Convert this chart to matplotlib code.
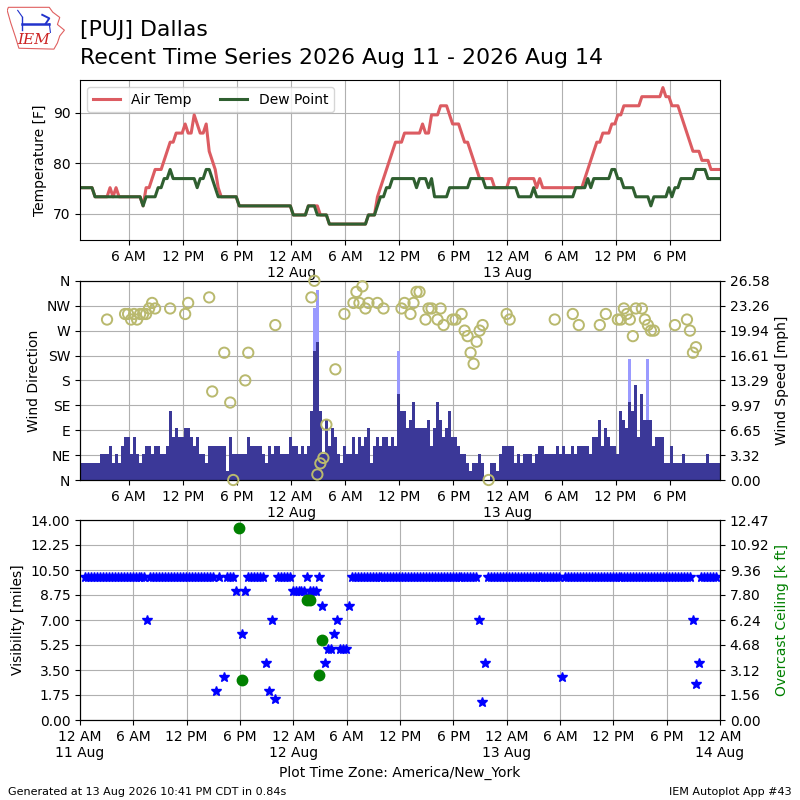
import datetime as dt
import numpy as np
import matplotlib
matplotlib.use("Agg")
import matplotlib.pyplot as plt
import matplotlib.dates as mdates
from matplotlib.ticker import FuncFormatter
from matplotlib.patches import Polygon

# ---------------- data (20-minute observations, run-length encoded) ----------------
START = dt.datetime(2026, 8, 11, 0, 35)
STEP_MIN = 20

TEMP_RUNS = [(75.2, 5), (73.4, 5), (75.2, 1), (73.4, 1), (75.2, 1), (73.4, 8), (71.6, 1),
             (75.2, 2), (77, 1), (78.8, 3), (80.6, 1), (82.4, 1), (84.2, 2), (86, 3),
             (87.8, 1), (86, 2), (89.6, 1), (87.8, 1), (86, 2), (87.8, 1), (82.4, 1),
             (80.6, 1), (78.8, 1), (75.2, 1), (73.4, 6), (71.6, 18), (69.8, 5), (71.6, 4),
             (69.8, 3), (68, 13), (69.8, 3), (73.4, 1), (75.2, 1), (77, 1), (78.8, 1),
             (80.6, 1), (82.4, 1), (84.2, 3), (86, 6), (87.8, 1), (86, 2), (89.6, 3),
             (91.4, 3), (89.6, 1), (87.8, 3), (86, 1), (84.2, 2), (82.4, 1), (80.6, 1),
             (78.8, 1), (77, 5), (75.2, 5), (77, 9), (75.2, 1), (77, 1), (75.2, 14),
             (77, 1), (78.8, 1), (80.6, 1), (82.4, 1), (84.2, 2), (86, 3), (87.8, 2),
             (89.6, 2), (91.4, 6), (93.2, 7), (95, 1), (93.2, 2), (91.4, 3), (89.6, 1),
             (87.8, 1), (86, 1), (84.2, 1), (82.4, 3), (80.6, 3), (78.8, 4)]

DEW_RUNS = [(75.2, 5), (73.4, 16), (71.6, 1), (73.4, 4), (75.2, 2), (77, 2), (78.8, 1),
            (77, 8), (75.2, 1), (77, 2), (78.8, 2), (77, 1), (75.2, 1), (73.4, 7),
            (71.6, 18), (69.8, 5), (71.6, 3), (69.8, 4), (68, 13), (69.8, 3), (71.6, 1),
            (73.4, 2), (75.2, 2), (77, 8), (75.2, 1), (77, 3), (75.2, 1), (77, 1),
            (73.4, 5), (75.2, 7), (77, 5), (75.2, 11), (73.4, 5), (75.2, 1), (73.4, 13),
            (75.2, 4), (77, 1), (75.2, 1), (77, 6), (78.8, 2), (77, 2), (75.2, 4),
            (73.4, 5), (71.6, 1), (73.4, 5), (75.2, 1), (73.4, 1), (75.2, 2), (77, 5),
            (78.8, 4), (77, 5)]

WIND_KT_RUNS = [(2, 7), (3, 3), (4, 1), (2, 1), (3, 1), (2, 1), (4, 1), (5, 2), (3, 1),
                (5, 1), (3, 1), (2, 1), (3, 1), (4, 2), (3, 1), (4, 2), (3, 2), (4, 1),
                (8, 1), (5, 1), (6, 1), (5, 2), (6, 2), (5, 1), (4, 1), (5, 1), (3, 2),
                (2, 1), (4, 6), (1, 1), (5, 1), (3, 5), (5, 1), (4, 4), (3, 1), (2, 1),
                (4, 1), (3, 1), (4, 2), (3, 3), (5, 1), (4, 2), (3, 1), (4, 1), (3, 1),
                (4, 1), (8, 1), (15, 1), (16, 1), (8, 1), (3, 1), (7, 1), (4, 1), (6, 1),
                (5, 1), (3, 1), (2, 1), (4, 1), (3, 2), (5, 1), (3, 1), (5, 1), (4, 1),
                (5, 1), (6, 1), (2, 1), (4, 1), (5, 1), (4, 1), (5, 2), (4, 1), (5, 1),
                (4, 1), (10, 1), (8, 2), (6, 1), (7, 1), (9, 1), (6, 4), (7, 1), (4, 1),
                (6, 1), (9, 1), (7, 1), (5, 1), (6, 1), (8, 1), (5, 2), (4, 1), (3, 2),
                (2, 1), (1, 1), (2, 2), (3, 1), (2, 1), (0, 2), (2, 2), (1, 1), (3, 1),
                (4, 4), (2, 1), (3, 1), (2, 1), (3, 3), (2, 1), (3, 1), (4, 2), (3, 4),
                (4, 1), (3, 1), (4, 1), (3, 2), (4, 1), (3, 1), (4, 4), (3, 1), (5, 2),
                (7, 1), (4, 1), (6, 1), (5, 1), (4, 2), (3, 1), (8, 1), (7, 1), (6, 1),
                (9, 1), (8, 1), (11, 1), (5, 1), (10, 1), (7, 3), (4, 1), (5, 3), (2, 2),
                (4, 1), (2, 3), (3, 1), (2, 7), (3, 1), (2, 4)]

GUST_IDX = [78, 79, 106, 183, 189]
GUST_KT = [20, 22, 15, 14, 14]

DIR_IDX = [9, 15, 16, 17, 18, 19, 20, 21, 22, 23, 24, 25, 30, 35, 36, 43, 44, 48, 50, 51,
           55, 56, 65, 77, 78, 79, 80, 81, 82, 85, 88, 91, 92, 93, 94, 95, 96, 99, 101,
           107, 108, 110, 111, 112, 113, 115, 116, 117, 119, 120, 121, 124, 125, 127, 128,
           129, 130, 131, 132, 133, 134, 136, 142, 143, 158, 164, 166, 173, 175, 179, 180,
           181, 182, 183, 184, 185, 187, 188, 189, 190, 191, 198, 202, 203, 204, 205]
DIR_DEG = [290, 300, 300, 290, 300, 290, 300, 300, 300, 310, 320, 310, 310, 300, 320, 330,
           160, 230, 140, 0, 180, 230, 280, 330, 360, 10, 30, 40, 100, 200, 300, 320, 340,
           320, 350, 310, 320, 320, 310, 310, 320, 300, 320, 340, 340, 290, 310, 310, 290,
           310, 280, 290, 290, 300, 270, 260, 230, 210, 250, 270, 280, 0, 300, 290, 290,
           300, 280, 280, 300, 290, 290, 310, 300, 290, 260, 310, 310, 290, 280, 270, 270,
           280, 290, 270, 230, 240]

NAN = float("nan")
VIS_RUNS = [(10, 21), (7, 1), (10, 22), (2, 1), (10, 1), (NAN, 1), (3, 1), (10, 3), (9, 1),
            (NAN, 1), (6, 1), (9, 1), (10, 6), (4, 1), (2, 1), (7, 1), (1.5, 1), (10, 5),
            (9, 5), (10, 1), (9, 3), (10, 1), (8, 1), (4, 1), (5, 2), (6, 1), (7, 1),
            (5, 3), (8, 1), (10, 43), (7, 1), (1.25, 1), (4, 1), (10, 25), (3, 1),
            (10, 43), (7, 1), (2.5, 1), (4, 1), (10, 6)]

CEIL_IDX = [52, 53, 75, 76, 79, 80]
CEIL_KFT = [12.0, 2.5, 7.5, 7.5, 2.8, 5.0]

DIR_LABELS = ["N", "NE", "E", "SE", "S", "SW", "W", "NW", "N"]
BOTTOM_START = dt.datetime(2026, 8, 11, 0, 0)
BOTTOM_END = dt.datetime(2026, 8, 14, 0, 0)


def expand(runs):
    return np.array([v for v, n in runs for _ in range(n)], dtype=float)


temp = expand(TEMP_RUNS)
dew = expand(DEW_RUNS)
wind = expand(WIND_KT_RUNS) * 1.15
vis = expand(VIS_RUNS)


def times_for(n):
    return [START + dt.timedelta(minutes=STEP_MIN * i) for i in range(n)]


t_temp = times_for(len(temp))
t_dew = times_for(len(dew))
t_wind = times_for(len(wind))
t_vis = times_for(len(vis))
t_all = times_for(max(len(temp), len(wind), len(vis)))
t_gust = [t_all[i] for i in GUST_IDX]
gust = np.array(GUST_KT, float) * 1.15
t_dir = [t_all[i] for i in DIR_IDX]
t_ceil = [t_all[i] for i in CEIL_IDX]


def tfmt(x, pos=None):
    d = mdates.num2date(x)
    h = d.hour
    lab = f"{(h % 12) or 12} {'AM' if h < 12 else 'PM'}"
    if h == 0:
        lab += "\n" + d.strftime("%d %b").lstrip("0")
    return lab


fig = plt.figure(figsize=(8, 8), dpi=100)

# ---------------- temperature ----------------
ax1 = fig.add_axes([0.1, 0.7, 0.8, 0.2])
ax1.plot(t_temp, temp, color="#dc5c62", lw=2.2, label="Air Temp")
ax1.plot(t_dew, dew, color="#2f5f30", lw=2.2, label="Dew Point")
ax1.set_xlim(t_temp[0], t_temp[-1])
ax1.set_ylim(64.85, 96.5)
ax1.set_yticks([70, 80, 90])
ax1.set_ylabel("Temperature [F]")
ax1.grid(True)
ax1.legend(loc="upper left", ncol=2)

# ---------------- wind ----------------
axw = fig.add_axes([0.1, 0.4, 0.8, 0.249])
width = STEP_MIN / 1440.0
axw.bar(t_gust, gust, width=width, color="#9a9aff", zorder=1)
axw.bar(t_wind, wind, width=width, color="#3b3898", zorder=2)
wtop = 26.582
axw.set_ylim(0, wtop)
axw.set_yticks(np.linspace(0, wtop, 9))
axw.yaxis.set_major_formatter(FuncFormatter(lambda v, p: f"{v:.2f}"))
axw.set_axisbelow(True)
axw.grid(True)
axd = axw.twinx()
axw.yaxis.tick_right()
axw.yaxis.set_label_position("right")
axw.set_ylabel("Wind Speed [mph]")
axd.yaxis.tick_left()
axd.yaxis.set_label_position("left")
axd.scatter(t_dir, DIR_DEG, s=55, facecolors="none", edgecolors="#b9b96e",
            linewidths=1.4, zorder=5, clip_on=False)
axd.set_ylim(0, 360)
axd.set_yticks(np.arange(0, 361, 45))
axd.set_yticklabels(DIR_LABELS)
axd.set_ylabel("Wind Direction")
axw.set_xlim(t_temp[0], t_temp[-1])

# ---------------- visibility / ceiling ----------------
axv = fig.add_axes([0.1, 0.1, 0.8, 0.25])
axv.plot(t_vis, vis, linestyle="none", marker="*", color="blue", markersize=7,
         zorder=3)
axv.set_ylim(0, 14)
axv.set_yticks(np.linspace(0, 14, 9))
axv.yaxis.set_major_formatter(FuncFormatter(lambda v, p: f"{v:.2f}"))
axv.set_ylabel("Visibility [miles]")
axv.grid(True)
axv.set_xlim(BOTTOM_START, BOTTOM_END)
axv.set_xlabel("Plot Time Zone: America/New_York")
axc = axv.twinx()
axc.plot(t_ceil, CEIL_KFT, linestyle="none", marker="o", color="green", markersize=7.5)
ctop = 12.4749
axc.set_ylim(0, ctop)
axc.set_yticks(np.linspace(0, ctop, 9))
axc.yaxis.set_major_formatter(FuncFormatter(lambda v, p: f"{v:.2f}"))
axc.set_ylabel("Overcast Ceiling [k ft]", color="green")

for a in (ax1, axw, axv):
    a.xaxis.set_major_locator(mdates.HourLocator(byhour=[0, 6, 12, 18]))
    a.xaxis.set_major_formatter(FuncFormatter(tfmt))

# ---------------- titles / footer ----------------
fig.text(0.1, 0.955, "[PUJ] Dallas", fontsize=15.8, va="baseline")
fig.text(0.1, 0.92, "Recent Time Series 2026 Aug 11 - 2026 Aug 14", fontsize=15.8,
         va="baseline")
fig.text(0.01, 0.006, "Generated at 13 Aug 2026 10:41 PM CDT in 0.84s", fontsize=8)
fig.text(0.99, 0.006, "IEM Autoplot App #43", fontsize=8, ha="right")

# simple IEM logo
axl = fig.add_axes([0.009, 0.9375, 0.073, 0.055])
axl.set_xlim(0, 1)
axl.set_ylim(0, 1)
axl.axis("off")
iowa = [(0.02, 0.97), (0.72, 0.97), (0.78, 0.86), (0.9, 0.74), (0.86, 0.58),
        (0.98, 0.45), (0.9, 0.32), (0.86, 0.16), (0.8, 0.02), (0.2, 0.04),
        (0.14, 0.3), (0.06, 0.62), (0.0, 0.9)]
axl.add_patch(Polygon(iowa, closed=True, fill=False, edgecolor="#e06060", lw=0.8))
axl.plot([0.26, 0.72], [0.6, 0.6], color="#2233cc", lw=1.8)
axl.plot([0.26, 0.26], [0.45, 0.75], color="#2233cc", lw=1.0)
axl.plot([0.26, 0.18], [0.75, 0.9], color="#2233cc", lw=0.8)
axl.plot([0.6, 0.72, 0.66], [0.8, 0.72, 0.6], color="#2233cc", lw=1.4)
axl.plot([0.72, 0.74], [0.6, 0.4], color="#2233cc", lw=0.8)
axl.text(0.45, 0.22, "IEM", color="#cc2222", fontsize=11, ha="center", va="center",
         fontstyle="italic", family="DejaVu Serif")

fig.savefig("out.png", dpi=100)
